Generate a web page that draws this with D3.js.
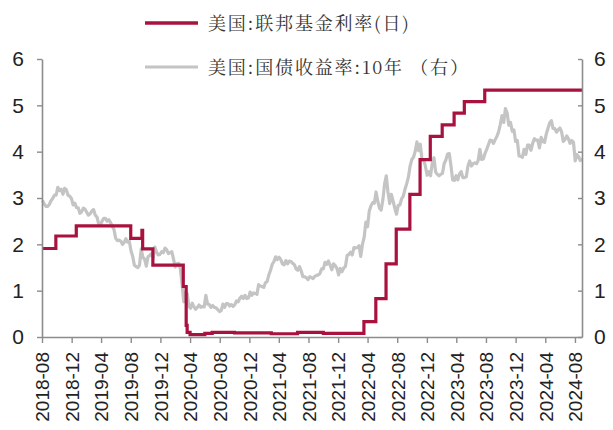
<!DOCTYPE html>
<html><head><meta charset="utf-8">
<script src="https://cdn.jsdelivr.net/npm/d3@7"></script>
<style>
html,body{margin:0;padding:0;background:#fff;}
svg{display:block;}
</style></head>
<body>
<script>
// ---- DATA ----
const seriesNames = ["美国:联邦基金利率(日)", "美国:国债收益率:10年 （右）"];
const xTickLabels = ["2018-08","2018-12","2019-04","2019-08","2019-12","2020-04","2020-08","2020-12","2021-04","2021-08","2021-12","2022-04","2022-08","2022-12","2023-04","2023-08","2023-12","2024-04","2024-08"];
const yTicks = [0,1,2,3,4,5,6];

// Fed funds effective rate: change dates and levels (step)
const fedDates = ["2018-08-01","2018-09-27","2018-12-20","2019-08-01","2019-09-16","2019-09-19","2019-10-31","2020-03-04","2020-03-16","2020-03-20","2020-04-01","2020-06-01","2020-07-01","2020-10-01","2021-03-01","2021-06-17","2021-10-01","2022-03-17","2022-05-05","2022-06-16","2022-07-28","2022-09-22","2022-11-03","2022-12-15","2023-02-02","2023-03-23","2023-05-04","2023-07-27","2024-08-30"];
const fedValues = [1.91,2.18,2.40,2.13,2.30,1.90,1.55,1.09,0.25,0.10,0.05,0.08,0.10,0.09,0.07,0.10,0.08,0.33,0.83,1.58,2.33,3.08,3.83,4.33,4.58,4.83,5.08,5.33,5.33];

// 10-year Treasury yield, weekly (Fridays) from 2018-08-03
const yieldStart = "2018-08-03";
const yieldValues = [
 // 2018
 2.95,2.87,2.82,2.82,2.86, 2.94,2.99,3.06,3.06, 3.23,3.16,3.19,3.08, 3.21,3.18,3.06,3.04,2.99, 2.85,2.89,2.79,2.79,
 // 2019
 2.67,2.70,2.78,2.76, 2.69,2.63,2.66,2.72, 2.75,2.63,2.59,2.44,2.41, 2.50,2.56,2.56,2.50, 2.53,2.47,2.39,2.32,2.13,
 2.08,2.09,2.07,2.00, 2.04,2.12,2.05,2.07, 1.86,1.74,1.55,1.52,1.50, 1.55,1.90,1.72,1.68, 1.53,1.73,1.76,1.80,
 1.71,1.94,1.83,1.77,1.78, 1.84,1.82,1.92,1.88,
 // 2020
 1.80,1.82,1.84,1.68,1.51, 1.58,1.59,1.47,1.15, 0.76,0.96,0.94,0.67, 0.62,0.73,0.65,0.60, 0.64,0.69,0.64,0.66,0.65,
 0.90,0.71,0.70,0.64, 0.68,0.64,0.63,0.59,0.55, 0.57,0.71,0.64,0.72, 0.72,0.67,0.70,0.66, 0.70,0.78,0.76,0.84,0.88,
 0.83,0.90,0.83,0.84, 0.97,0.90,0.95,0.94,
 // 2021
 0.92,1.13,1.10,1.09,1.07, 1.17,1.20,1.34,1.44, 1.57,1.63,1.73,1.67, 1.72,1.67,1.58,1.56,1.65, 1.58,1.64,1.63,1.59,
 1.56,1.47,1.44,1.52, 1.43,1.30,1.30,1.28,1.24, 1.30,1.28,1.26,1.31, 1.33,1.34,1.37,1.47, 1.47,1.61,1.57,1.64,1.55,
 1.45,1.58,1.54,1.48, 1.34,1.48,1.41,1.49,1.52,
 // 2022
 1.76,1.78,1.83,1.77, 1.93,1.92,1.93,1.97, 1.74,2.00,2.15,2.48, 2.38,2.72,2.83,2.90,2.89, 3.13,2.93,2.78,2.74,
 2.96,3.30,3.48,3.13, 2.88,3.08,2.93,2.78,2.65, 2.84,2.85,2.98,3.04, 3.19,3.31,3.45,3.69,3.83, 3.88,4.01,4.21,4.02,
 4.16,3.82,3.83,3.68, 3.49,3.57,3.48,3.75,3.87,
 // 2023
 3.56,3.51,3.48,3.51, 3.53,3.74,3.82,3.95, 3.96,3.70,3.39,3.38,3.48, 3.39,3.52,3.57,3.44, 3.44,3.46,3.69,3.80,
 3.69,3.74,3.76,3.74,3.81, 4.05,3.83,3.84,3.96, 4.05,4.15,4.25,4.24, 4.18,4.26,4.33,4.43,4.59, 4.78,4.63,4.93,4.84,
 4.57,4.63,4.44,4.47, 4.22,4.24,3.91,3.90,3.88,
 // 2024
 4.05,3.94,4.14,4.14, 4.03,4.18,4.28,4.25, 4.25,4.08,4.31,4.22,4.20, 4.38,4.50,4.62,4.67, 4.50,4.50,4.42,4.47,4.51,
 4.43,4.22,4.26,4.34, 4.28,4.18,4.24,4.20, 3.80,3.94,3.89,3.81,3.85
];

// ---- CHART ----
const W = 613, H = 430;
const parse = d3.timeParse("%Y-%m-%d");
const fed = fedDates.map((d,i)=>({date:parse(d), v:fedValues[i]}));
const y0 = parse(yieldStart);
const yld = yieldValues.map((v,i)=>({date:d3.timeWeek.offset(y0,i), v}));

const x = d3.scaleTime().domain([parse("2018-08-01"), parse("2024-08-30")]).range([42, 582]);
const yL = d3.scaleLinear().domain([0,6]).range([337, 59]);
const yR = d3.scaleLinear().domain([0,6]).range([337, 59]);

const svg = d3.select("body").append("svg").attr("width",W).attr("height",H);

const axisColor = "#8c8c8c";
const tickDates = xTickLabels.map(s=>parse(s+"-01"));

// lines
const gray = "#c4c4c4", red = "#a8123e";
svg.append("path").datum(yld)
  .attr("fill","none").attr("stroke",gray).attr("stroke-width",3.2).attr("stroke-linejoin","round")
  .attr("d", d3.line().x(d=>x(d.date)).y(d=>yR(d.v)));
svg.append("path").datum(fed)
  .attr("fill","none").attr("stroke",red).attr("stroke-width",3.2)
  .attr("d", d3.line().curve(d3.curveStepAfter).x(d=>x(d.date)).y(d=>yL(d.v)));

// axes
const gx = svg.append("g").attr("transform","translate(0,337)")
  .call(d3.axisBottom(x).tickValues(tickDates).tickSize(6).tickSizeOuter(0).tickFormat(d3.timeFormat("%Y-%m")));
gx.selectAll("text")
  .attr("transform","rotate(-90)").attr("text-anchor","end")
  .attr("x",-15).attr("y",0).attr("dy","0.36em")
  .style("font-family","'Liberation Sans', Arial, sans-serif").style("font-size","19px").attr("fill","#222");

const gl = svg.append("g").attr("transform","translate(42,0)")
  .call(d3.axisLeft(yL).tickValues(yTicks).tickSize(5).tickSizeOuter(0).tickFormat(d3.format("d")));
gl.selectAll("text").attr("x",-18).style("font-family","'Liberation Sans', Arial, sans-serif").style("font-size","21px").attr("fill","#222");

const gr = svg.append("g").attr("transform","translate(582,0)")
  .call(d3.axisRight(yR).tickValues(yTicks).tickSize(-4).tickSizeOuter(0).tickFormat(d3.format("d")));
gr.selectAll("text").attr("x",12).style("font-family","'Liberation Sans', Arial, sans-serif").style("font-size","21px").attr("fill","#222");

[gx,gl,gr].forEach(g=>{
  g.select(".domain").attr("stroke",axisColor).attr("stroke-width",1.6);
  g.selectAll(".tick line").attr("stroke",axisColor).attr("stroke-width",1.4);
});

// legend
const leg = svg.append("g");
const legendColors = [red, gray];
const legendY = [23, 67];
seriesNames.forEach((name,i)=>{
  leg.append("line").attr("x1",145).attr("x2",198).attr("y1",legendY[i]).attr("y2",legendY[i])
    .attr("stroke",legendColors[i]).attr("stroke-width",i===0?3.5:3);
  leg.append("text").attr("x",208).attr("y",legendY[i]+7).text(name)
    .style("font-family","'Noto Serif CJK SC','Noto Sans CJK SC',sans-serif")
    .style("font-size","18px").style("letter-spacing","1.8px").attr("fill","#333");
});
</script>
</body></html>
